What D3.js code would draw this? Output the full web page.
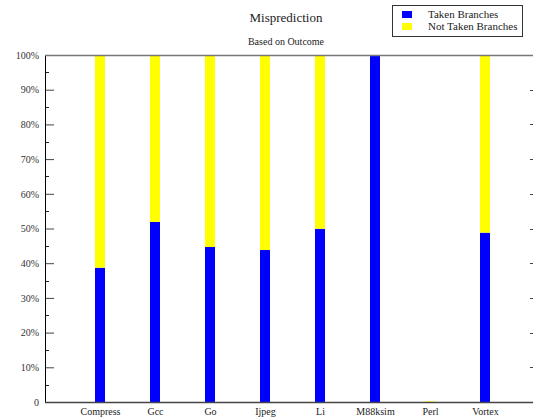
<!DOCTYPE html>
<html>
<head>
<meta charset="utf-8">
<script src="https://cdn.jsdelivr.net/npm/d3@7"></script>
<style>
  html, body { margin: 0; padding: 0; background: #fff; }
  svg { display: block; font-family: "Liberation Serif", "DejaVu Serif", serif; }
</style>
</head>
<body>
<svg id="chart" width="534" height="419"></svg>
<script>
// Benchmarks and misprediction share (%) split by branch outcome
const categories = ["Compress", "Gcc", "Go", "Ijpeg", "Li", "M88ksim", "Perl", "Vortex"];
const takenBranches = [38.7, 51.9, 44.7, 43.8, 49.9, 100, 0, 48.8];
const notTakenBranches = [61.3, 48.1, 55.3, 56.2, 50.1, 0, 0.2, 51.2];
const seriesNames = ["Taken Branches", "Not Taken Branches"];
const seriesColors = ["#0000ff", "#ffff00"];
const yTickValues = [0, 10, 20, 30, 40, 50, 60, 70, 80, 90, 100];
const yTickLabels = ["0", "10%", "20%", "30%", "40%", "50%", "60%", "70%", "80%", "90%", "100%"];

const serif = "'Liberation Serif', 'DejaVu Serif', serif";
const svg = d3.select("#chart");
const plotLeft = 45, plotRight = 533, plotTop = 55, plotBottom = 402;

const x = d3.scalePoint().domain(categories).range([100, 485]);
const y = d3.scaleLinear().domain([0, 100]).range([plotBottom, plotTop]);
const barW = 10;

// Stack the two series
const rows = categories.map((c, i) => ({ cat: c, taken: takenBranches[i], notTaken: notTakenBranches[i] }));
const stack = d3.stack().keys(["taken", "notTaken"]);
const layers = stack(rows);

svg.append("g").selectAll("g")
  .data(layers)
  .join("g")
  .attr("fill", (d, i) => seriesColors[i])
  .selectAll("rect")
  .data(d => d)
  .join("rect")
  .attr("x", d => x(d.data.cat) - barW / 2)
  .attr("width", barW)
  .attr("y", d => y(d[1]))
  .attr("height", d => Math.max(0, y(d[0]) - y(d[1])));

// Left axis: major ticks every 10%, minor ticks at 5%
const yAxis = d3.axisRight(y)
  .tickValues(yTickValues)
  .tickFormat((d, i) => yTickLabels[i])
  .tickSize(9)
  .tickPadding(0);
const gy = svg.append("g").attr("transform", `translate(${plotLeft},0)`).call(yAxis)
  .attr("font-family", serif).attr("font-size", 10);
gy.select(".domain").remove();
gy.selectAll(".tick line").attr("stroke", "#444").attr("stroke-width", 1);
gy.selectAll(".tick text")
  .attr("x", -6)
  .attr("text-anchor", "end")
  .attr("fill", "#333");

const minorTicks = d3.range(5, 100, 10);
svg.append("g").selectAll("line")
  .data(minorTicks)
  .join("line")
  .attr("x1", plotLeft).attr("x2", plotLeft + 4)
  .attr("y1", d => Math.round(y(d)) + 0.5).attr("y2", d => Math.round(y(d)) + 0.5)
  .attr("stroke", "#222");

// Right-hand short ticks
svg.append("g").selectAll("line")
  .data(yTickValues.slice(1, -1))
  .join("line")
  .attr("x1", plotRight - 3).attr("x2", plotRight)
  .attr("y1", d => Math.round(y(d)) + 0.5).attr("y2", d => Math.round(y(d)) + 0.5)
  .attr("stroke", "#444");

// Frame lines
svg.append("line").attr("x1", plotLeft + 0.5).attr("x2", plotLeft + 0.5).attr("y1", plotTop).attr("y2", plotBottom)
  .attr("stroke", "#000");
svg.append("line").attr("x1", plotLeft).attr("x2", plotRight).attr("y1", plotTop + 0.5).attr("y2", plotTop + 0.5)
  .attr("stroke", "#777").attr("stroke-width", 1.5);
svg.append("line").attr("x1", plotLeft).attr("x2", plotRight).attr("y1", plotBottom + 0.5).attr("y2", plotBottom + 0.5)
  .attr("stroke", "#444").attr("stroke-width", 1.5);

// Category labels
const xAxis = d3.axisBottom(x).tickSize(0).tickPadding(0);
const gx = svg.append("g").attr("transform", `translate(0,${plotBottom})`).call(xAxis)
  .attr("font-family", serif).attr("font-size", 10);
gx.select(".domain").remove();
gx.selectAll(".tick text")
  .attr("y", 6)
  .attr("dy", "0.71em")
  .attr("fill", "#222");

// Titles
svg.append("text").attr("x", 286).attr("y", 22).attr("text-anchor", "middle")
  .attr("font-family", serif).attr("font-size", 13).attr("fill", "#222").text("Misprediction");
svg.append("text").attr("x", 286).attr("y", 45).attr("text-anchor", "middle")
  .attr("font-family", serif).attr("font-size", 10).attr("fill", "#222").text("Based on Outcome");

// Legend
const lg = svg.append("g").attr("font-family", serif);
lg.append("rect").attr("x", 392.5).attr("y", 5.5).attr("width", 130).attr("height", 31)
  .attr("fill", "#fff").attr("stroke", "#333").attr("stroke-width", 1);
seriesNames.forEach((name, i) => {
  lg.append("rect").attr("x", 402).attr("y", 11 + i * 12).attr("width", 10).attr("height", 7)
    .attr("fill", seriesColors[i]);
  lg.append("text").attr("x", 428).attr("y", 18 + i * 12)
    .attr("font-size", 11).attr("fill", "#222").text(name);
});
</script>
</body>
</html>
